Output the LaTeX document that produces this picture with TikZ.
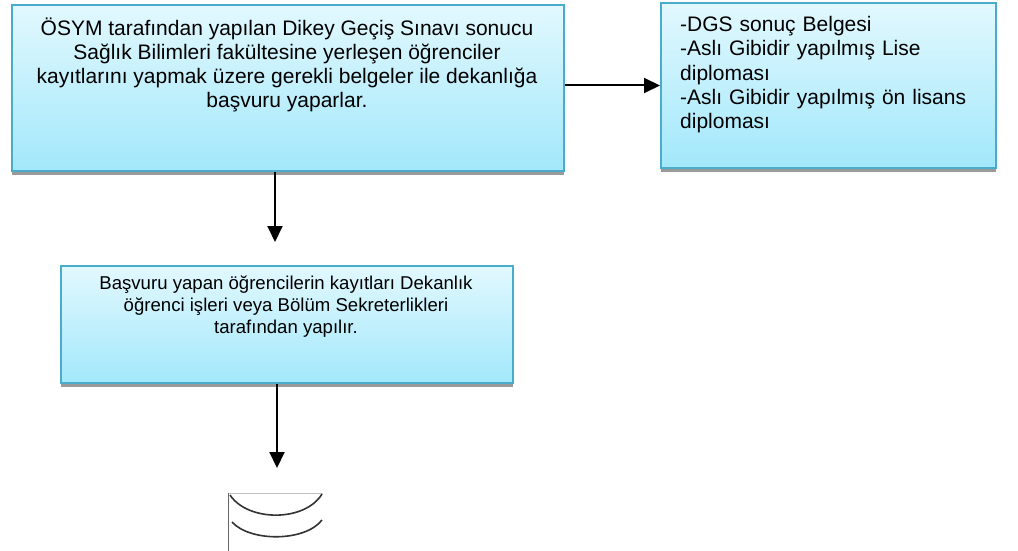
\documentclass[tikz,border=0pt]{standalone}
\usepackage{fontspec}
\setmainfont{Liberation Sans}
\usetikzlibrary{arrows.meta,shadows}
\definecolor{bord}{HTML}{4AACCB}
\definecolor{ctop}{HTML}{E2F8FE}
\definecolor{cbot}{HTML}{A2E8FB}
\definecolor{shad}{HTML}{9A9A9A}
\definecolor{arcc}{HTML}{333333}
\begin{document}
\begin{tikzpicture}[x=1pt,y=-1pt,
  box/.style={draw=bord, line width=2pt, top color=ctop, bottom color=cbot, inner sep=0pt,
    anchor=north west,
    drop shadow={shadow xshift=0pt, shadow yshift=-4pt, fill=shad, opacity=1}},
  bigtext/.style={font=\fontsize{21}{24}\selectfont, inner sep=0pt, align=center, anchor=north},
  smalltext/.style={font=\fontsize{18.6}{22}\selectfont, inner sep=0pt, align=center, anchor=north},
  listtext/.style={font=\fontsize{21}{24.3}\selectfont, inner sep=0pt, align=left, text width=295pt, anchor=north west},
  arr/.style={line width=2pt, -{Triangle[length=16pt,width=15pt]}}
]
\useasboundingbox (0,0) rectangle (1018,551);

% boxes
\node[box, minimum width=552pt, minimum height=166pt] (b1) at (11,4) {};
\node[box, minimum width=335pt, minimum height=165pt] (b2) at (660,2) {};
\node[box, minimum width=452pt, minimum height=117pt] (b3) at (60,265) {};

% texts
\node[bigtext] (b1t) at (287,18) {ÖSYM tarafından yapılan Dikey Geçiş Sınavı sonucu\\
Sağlık Bilimleri fakültesine yerleşen öğrenciler\\
kayıtlarını yapmak üzere gerekli belgeler ile dekanlığa\\
başvuru yaparlar.};

\node[listtext] (b2t) at (680,16) {-DGS sonuç Belgesi\\
\makebox[295pt][s]{-Aslı Gibidir yapılmış Lise}\\
diploması\\
\makebox[295pt][s]{-Aslı Gibidir yapılmış ön lisans}\\
diploması};

\node[smalltext] (b3t) at (286,276) {Başvuru yapan öğrencilerin kayıtları Dekanlık\\
öğrenci işleri veya Bölüm Sekreterlikleri\\
tarafından yapılır.};

% connectors
\coordinate (a1end) at (275,242);
\coordinate (a2end) at (277,468);
\draw[arr] (b1.east |- b2.west) -- (b2.west);
\draw[arr] (b1.south -| a1end) -- (a1end);
\draw[arr] (b3.south -| a2end) -- (a2end);

% bottom icon
\draw[gray!50, line width=0.8pt] (228,493) -- (323,493);
\draw[gray!80!black, line width=1pt] (228,493) -- (228,551);
\draw[arcc, line width=1.6pt] (230,495) .. controls (248,522) and (305,522) .. (322,494);
\draw[arcc, line width=1.6pt] (232,522) .. controls (250,542) and (305,542) .. (322,520);
\end{tikzpicture}
\end{document}
